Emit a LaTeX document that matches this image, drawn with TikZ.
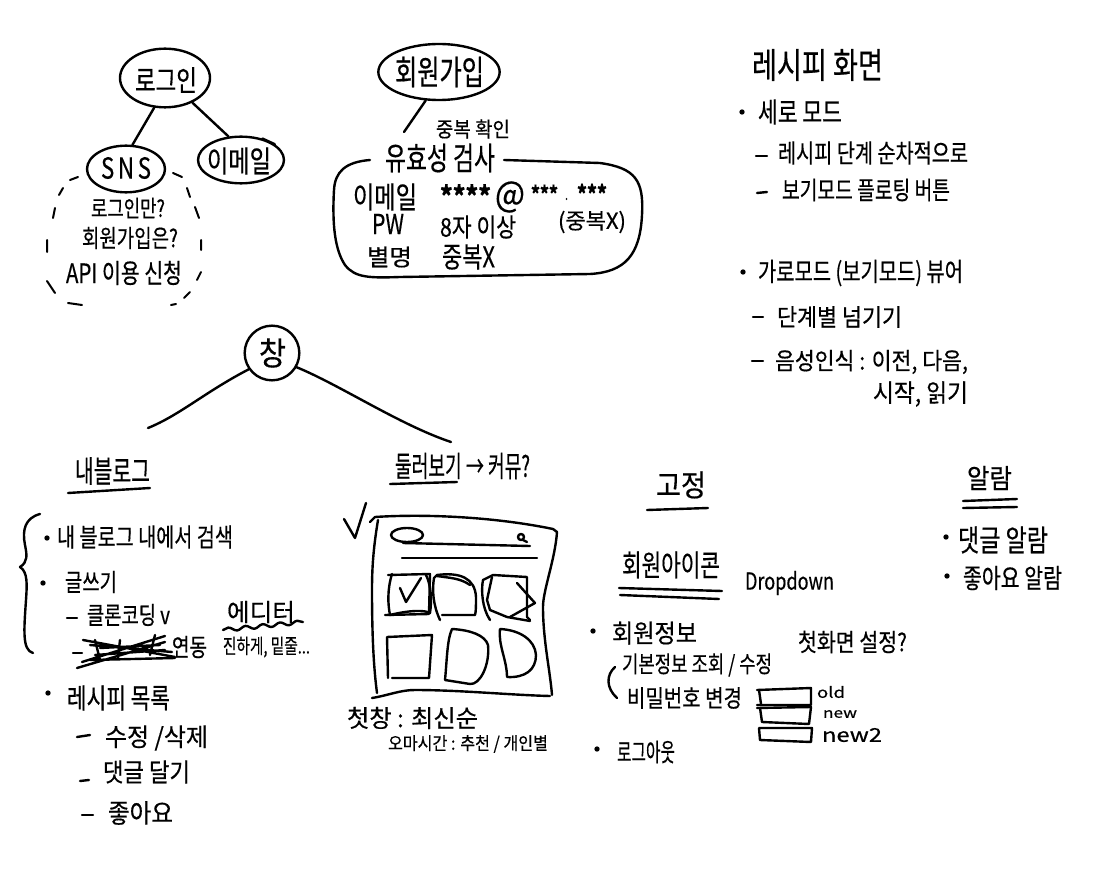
\documentclass[tikz,border=0pt]{standalone}
\usepackage{fontspec}
\usepackage{graphicx}
\setmainfont{Noto Sans CJK KR}[FakeBold=0.5]
\usetikzlibrary{shapes.geometric,decorations.pathmorphing}
\tikzset{
  ink/.style={line width=1.8pt,line cap=round,line join=round,black},
  thinink/.style={line width=1.5pt,line cap=round,line join=round,black},
  bubble/.style={ink,draw,ellipse,inner sep=0pt},
  txt/.style={inner sep=0pt,outer sep=0pt,anchor=center,text=black},
  dotmark/.style={fill=black,circle,inner sep=0pt,minimum size=4pt}
}
% [vertical stretch], name, left px, right px, y px, text
\newcommand\Tx[6][1.3]{%
  \pgfmathsetmacro\tcx{(#3+#4)/2}%
  \pgfmathsetmacro\twd{(#4-#3)*0.75}%
  \node[txt] (#2) at (\tcx,#5) {\scalebox{1}[#1]{\resizebox{\twd pt}{!}{#6}}};}
\newcommand\Bu[3]{\node[dotmark] (#1) at (#2,#3) {};}
\begin{document}
\begin{tikzpicture}[x=0.75pt,y=-0.75pt]
\useasboundingbox (0,0) rectangle (1110,870);
\fill[white] (0,0) rectangle (1110,870);

% --- login tree
\node[bubble,minimum width=67.5pt,minimum height=44pt] (login) at (165,78) {};
\node[bubble,minimum width=58.5pt,minimum height=35pt] (sns) at (126,169) {};
\node[bubble,minimum width=64.5pt,minimum height=35pt] (mail) at (241,160) {};
\draw[ink] (login.250) -- (sns.75);
\draw[ink] (login.318) -- (mail.118);
\draw[ink] (mail.25) -- (mail.45);
\Tx{tLogin}{135}{197}{80}{로그인}
\Tx{tSns}{101}{151}{168}{S\,N\,S}
\Tx{tMail}{207}{271}{161}{이메일}
\draw[thinink] (70,180)--(78,177) (59,195)--(63,188) (53,218)--(55,208) (47,252)--(47,240)
  (55,293)--(47,281) (68,303)--(82,305) (171,305)--(176,304) (184,298)--(190,292)
  (197,280)--(201,272) (201,250)--(201,240) (199,218)--(195,207) (190,197)--(187,188)
  (182,177)--(173,173);
\Tx{tQ1}{91}{165}{208}{로그인만?}
\Tx{tQ2}{82}{178}{238}{회원가입은?}
\Tx{tApi}{66}{182}{273}{API 이용 신청}

% --- sign-up
\node[bubble,minimum width=91pt,minimum height=42pt] (join) at (439,72) {};
\Tx[1.4]{tJoin}{395}{484}{72}{회원가입}
\Tx[1.1]{tDup}{436}{510}{129}{중복 확인}
\Tx[1.4]{tValid}{385}{495}{158}{유효성 검사}
\coordinate (joinEnd) at (404,132);
\draw[ink] (join.245) -- (joinEnd);
\draw[ink] (370,160) .. controls (345,162) and (335,172) .. (334,190)
  .. controls (332,225) and (335,250) .. (345,265)
  .. controls (355,278) and (370,278) .. (400,277)
  -- (590,274) .. controls (625,272) and (640,255) .. (642,215)
  .. controls (644,180) and (635,168) .. (600,163) -- (504,160);
\Tx{tFmail}{353}{417}{197}{이메일}
\Tx[1.1]{tStar1}{440}{491}{195}{\bfseries ****}
\Tx[1.1]{tAt}{495}{525}{197}{@}
\Tx[1.2]{tStar2}{531}{558}{193}{\bfseries ***}
\Tx{tDot}{565}{568}{199}{.}
\Tx[1.2]{tStar3}{577}{607}{193}{\bfseries ***}
\Tx[1.0]{tNoDup}{558}{626}{222}{(중복X)}
\Tx{tPw}{372}{404}{224}{PW}
\Tx[1.2]{tEight}{440}{516}{227}{8자 이상}
\Tx[0.95]{tNick}{367}{412}{257}{별명}
\Tx{tNoDup2}{442}{495}{257}{중복X}

% --- recipe screen
\Tx{tRecipe}{752}{883}{65}{레시피 화면}
\Bu{b1}{742}{112}
\Tx{tPortrait}{758}{842}{112}{세로 모드}
\draw[ink] (756,156)--(767,156);
\Tx{tSeq}{778}{968}{153}{레시피 단계 순차적으로}
\draw[ink] (757,193)--(767,192);
\Tx{tFloat}{782}{950}{190}{보기모드 플로팅 버튼}
\Bu{b2}{743}{272}
\Tx{tLand}{758}{963}{273}{가로모드 (보기모드) 뷰어}
\draw[ink] (753,317)--(763,317);
\Tx[1.1]{tStep}{777}{902}{317}{단계별 넘기기}
\draw[ink] (752,361)--(763,361);
\Tx[1.1]{tVoice}{775}{968}{362}{음성인식 : 이전, 다음,}
\Tx[1.1]{tVoice2}{873}{968}{394}{시작, 읽기}

% --- tab
\node[bubble,circle,minimum size=41pt] (tab) at (272,353) {};
\Tx[1.1]{tTab}{259}{286}{353}{창}
\Tx[1.5]{tMy}{75}{150}{471}{내블로그}
\Tx[1.6]{tBrowse}{395}{530}{466}{둘러보기 → 커뮤?}
\draw[ink] (tab.215) .. controls (205,392) and (180,415) .. (148,428);
\draw[ink] (tab.330) .. controls (340,385) and (400,425) .. (451,442);
\draw[ink] (68,493) -- (150,488);
\draw[ink] (390,484) -- (457,482);

% --- my blog
\draw[ink] (40,514) .. controls (25,518) and (22,530) .. (25,545)
  .. controls (27,555) and (28,562) .. (20,567)
  .. controls (28,572) and (27,585) .. (26,600)
  .. controls (24,630) and (22,650) .. (33,653);
\Bu{b3}{47}{538}
\Tx{tSearch}{57}{233}{537}{내 블로그 내에서 검색}
\Bu{b4}{43}{583}
\Tx{tWrite}{65}{117}{582}{글쓰기}
\draw[ink] (67,618)--(77,618);
\Tx{tClone}{87}{170}{615}{클론코딩 v}
\draw[ink] (73,653)--(82,653);
\draw[ink] (83,640)--(175,657) (77,668)--(165,642) (90,645)--(172,652) (82,662)--(165,636)
  (90,660)--(175,658) (95,640)--(100,660) (120,640)--(118,658) (155,635)--(150,655)
  (100,648)--(160,645) (95,655)--(165,650);
\Tx{tLink}{172}{207}{647}{연동}
\Tx[1.0]{tEditor}{227}{295}{612}{에디터}
\draw[ink,decorate,decoration={snake,amplitude=1.4pt,segment length=13pt}] (223,630)--(303,622);
\Tx[1.4]{tBold}{223}{310}{647}{진하게, 밑줄...}
\Bu{b5}{48}{693}
\Tx{tList}{67}{170}{698}{레시피 목록}
\draw[ink] (77,737)--(90,735);
\Tx[1.05]{tEdit}{105}{208}{738}{수정 /삭제}
\draw[ink] (80,781)--(89,780);
\Tx[1.15]{tCmt}{103}{190}{772}{댓글 달기}
\draw[ink] (82,815)--(93,815);
\Tx[1.1]{tLike}{108}{173}{813}{좋아요}

% --- browse sketch
\draw[ink] (344,519)--(355,538)--(366,503);
\draw[ink] (370,522) -- (375,517) .. controls (420,514) and (490,516) .. (553,529)
  -- (557,532) .. controls (555,560) and (543,590) .. (543,607) .. controls (543,640) and (550,670) .. (552,695);
\draw[ink] (378,520) .. controls (373,550) and (372,570) .. (372,590) .. controls (372,640) and (374,670) .. (377,693);
\draw[ink] (372,698) .. controls (390,695) and (400,690) .. (415,690) .. controls (460,690) and (510,695) .. (550,696);
\draw[ink] (407,535) ellipse [x radius=16,y radius=7];
\draw[ink] (403,543)--(530,546);
\draw[ink] (402,558)--(537,558);
\draw[ink] (521,537) circle [radius=3];
\draw[ink] (523,540)--(527,542);
% row 1
\draw[ink] (388,575) -- (430,574) -- (429,614) -- (385,615);
\draw[ink] (392,574) .. controls (387,590) and (388,605) .. (390,615) .. controls (410,610) and (425,610) .. (430,613) .. controls (432,600) and (431,585) .. (426,575);
\draw[ink] (400,588)--(406,602)--(421,578);
\draw[ink] (440,620) .. controls (433,605) and (432,590) .. (434,578) -- (437,575) .. controls (460,572) and (475,578) .. (476,597) .. controls (476,605) and (476,612) .. (475,615) -- (442,615);
\draw[ink] (437,576) .. controls (450,578) and (460,578) .. (470,585);
\draw[ink] (490,620) .. controls (482,608) and (481,590) .. (483,580) -- (493,575) -- (527,577) -- (527,617) -- (530,620);
\draw[ink] (492,577) -- (487,600) -- (490,610) -- (507,617) -- (530,621);
\draw[ink] (517,583) -- (535,603) -- (510,617);
% row 2
\draw[ink] (388,678) -- (387,637) -- (432,635) -- (429,678) -- (392,678);
\draw[ink] (445,680) .. controls (447,660) and (447,640) .. (452,629) .. controls (470,630) and (485,635) .. (488,645) .. controls (490,665) and (480,685) .. (470,684) -- (445,680);
\draw[ink] (500,629) .. controls (520,630) and (535,640) .. (536,655) .. controls (536,670) and (525,678) .. (507,677) .. controls (507,660) and (498,645) .. (500,629);
\Tx[1.0]{tFirst}{347}{478}{718}{첫창 : 최신순}
\Tx[1.1]{tSub}{388}{548}{744}{오마시간 : 추천 / 개인별}

% --- fixed
\Tx[1.1]{tFixed}{656}{706}{485}{고정}
\draw[ink] (647,510)--(708,508);
\Tx[1.4]{tIcon}{622}{720}{565}{회원아이콘}
\draw[ink] (619,588)--(722,591);
\draw[ink] (620,595)--(719,599);
\Tx[1.3]{tDrop}{745}{834}{583}{Dropdown}
\Bu{b6}{593}{631}
\Tx[1.1]{tInfo}{612}{697}{633}{회원정보}
\Tx[1.2]{tHome}{798}{907}{642}{첫화면 설정?}
\Tx[1.3]{tBasic}{622}{772}{665}{기본정보 조회 / 수정}
\draw[ink] (615,667) .. controls (606,675) and (606,688) .. (617,698);
\Tx[1.2]{tPwd}{627}{742}{698}{비밀번호 변경}
\draw[ink] (757,690) -- (811,688) -- (811,705) -- (757,705);
\draw[ink] (759,690) -- (761,704);
\draw[ink] (757,708) -- (811,707) -- (809,724) -- (762,722) -- (760,708);
\draw[ink] (759,728) -- (812,728) -- (811,742) -- (760,740) -- (759,728);
\Tx[0.8]{tOld}{817}{845}{692}{old}
\Tx[0.8]{tNew}{823}{857}{714}{new}
\Tx[0.8]{tNew2}{822}{882}{735}{new2}
\Bu{b7}{597}{749}
\Tx[1.6]{tOut}{617}{675}{752}{로그아웃}

% --- alarm
\Tx[1.1]{tAlarm}{967}{1012}{478}{알람}
\draw[ink] (963,501)--(1017,499);
\draw[ink] (963,508)--(1017,507);
\Bu{b8}{946}{537}
\Tx{tAl1}{958}{1048}{540}{댓글 알람}
\Bu{b9}{947}{576}
\Tx{tAl2}{963}{1062}{578}{좋아요 알람}
\end{tikzpicture}
\end{document}
